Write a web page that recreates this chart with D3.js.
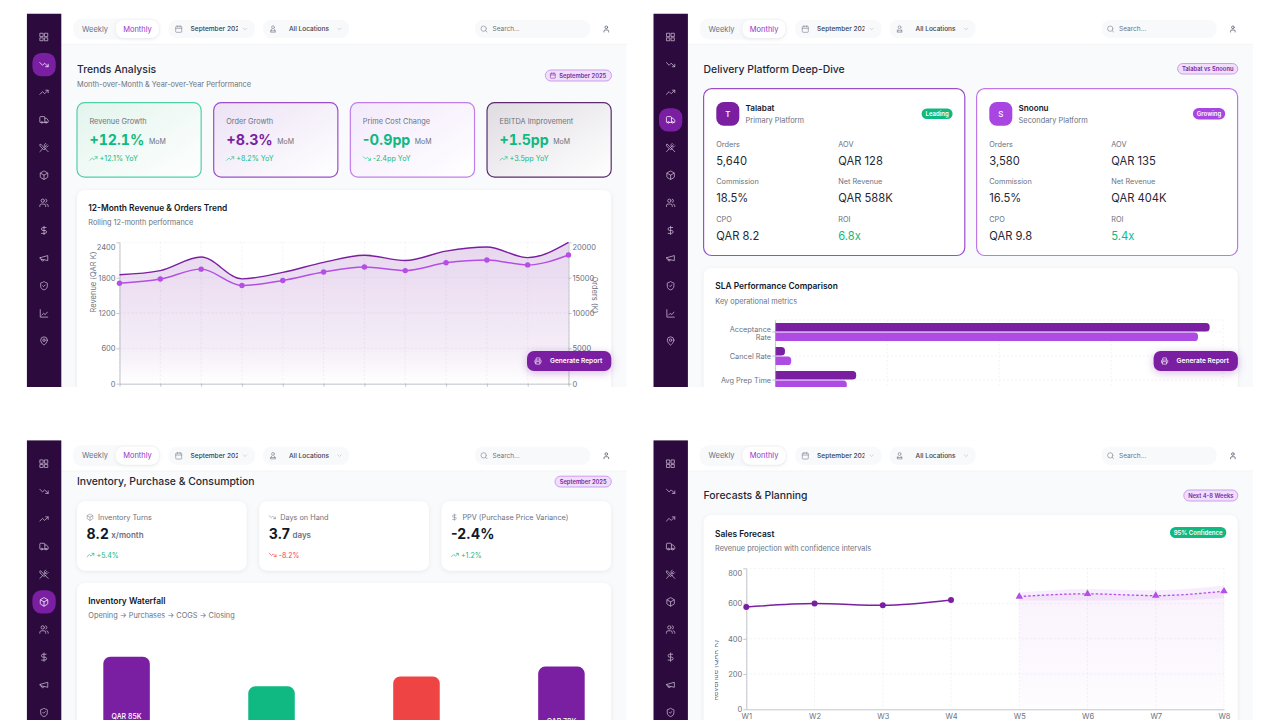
<!DOCTYPE html>
<html>
<head>
<meta charset="utf-8">
<script src="https://cdn.jsdelivr.net/npm/d3@7"></script>
<style>
  html, body { margin: 0; background: #fff; }
  svg { display: block; }
  text { font-family: Inter, "Noto Sans", sans-serif; }
  .card { filter: drop-shadow(0 1px 2px rgba(0,0,0,.07)); }
  .btn { filter: drop-shadow(0 2px 4px rgba(123,31,162,.3)); }
  .tab { font-variant-numeric: tabular-nums; }
</style>
</head>
<body>
<svg id="chart" width="1280" height="720"></svg>
<script>
// 12 month trend
const months = ["Oct", "Nov", "Dec", "Jan", "Feb", "Mar", "Apr", "May", "Jun", "Jul", "Aug", "Sep"];
const revenueValues = [1850, 1920, 2150, 1780, 1890, 2060, 2180, 2090, 2250, 2320, 2140, 2400];
const orderValues = [14200, 14800, 16200, 13900, 14600, 15800, 16500, 16000, 17100, 17500, 16800, 18200];
const revenueTicks = [0, 600, 1200, 1800, 2400];
const orderTicks = [0, 5000, 10000, 15000, 20000];

// trend kpis
const kpiLabels = ["Revenue Growth", "Order Growth", "Prime Cost Change", "EBITDA Improvement"];
const kpiValues = ["+12.1%", "+8.3%", "-0.9pp", "+1.5pp"];
const kpiYoy = ["+12.1% YoY", "+8.2% YoY", "-2.4pp YoY", "+3.5pp YoY"];
const kpiIcons = ["trendUp", "trendUp", "trendDown", "trendUp"];
const kpiValueColors = ["#10b981", "#7b1fa2", "#10b981", "#10b981"];
const kpiBorders = ["#4fd1a5", "#9c4dcc", "#c27ee8", "#5b2c6f"];
const kpiTints = ["#e3f4ed", "#ece2f5", "#f3e9fb", "#dfdce2"];

// platforms
const platformNames = ["Talabat", "Snoonu"];
const platformRoles = ["Primary Platform", "Secondary Platform"];
const platformTags = ["Leading", "Growing"];
const metricLabels = ["Orders", "AOV", "Commission", "Net Revenue", "CPO", "ROI"];
const talabatMetrics = ["5,640", "QAR 128", "18.5%", "QAR 588K", "QAR 8.2", "6.8x"];
const snoonuMetrics = ["3,580", "QAR 135", "16.5%", "QAR 404K", "QAR 9.8", "5.4x"];

// sla bars
const slaCategories = ["Acceptance Rate", "Cancel Rate", "Avg Prep Time"];
const talabatSla = [97, 2.2, 18.1];
const snoonuSla = [94.4, 3.6, 16];
const slaTicks = [0, 25, 50, 75, 100];

// inventory
const invLabels = ["Inventory Turns", "Days on Hand", "PPV (Purchase Price Variance)"];
const invValues = ["8.2", "3.7", "-2.4%"];
const invUnits = ["x/month", "days", ""];
const invDeltas = ["+5.4%", "-8.2%", "+1.2%"];
const invDeltaColors = ["#10b981", "#ef4444", "#10b981"];
const invDeltaIcons = ["trendUp", "trendDown", "trendUp"];
const invIcons = ["pkg", "trendDown", "dollar"];
const waterfallSteps = ["Opening", "Purchases", "COGS", "Closing"];
const waterfallValues = [85, 64, 71, 78];
const waterfallColors = ["#7b1fa2", "#10b981", "#ef4444", "#7b1fa2"];

// forecast
const weeks = ["W1", "W2", "W3", "W4", "W5", "W6", "W7", "W8"];
const actualSales = [580, 600, 590, 620];
const forecastSales = [640, 655, 645, 670];
const forecastUpper = [662, 683, 675, 702];
const forecastLower = [617, 618, 617, 630];
const salesTicks = [0, 200, 400, 600, 800];

const sideIcons = ["grid", "trendDown", "trendUp", "truck", "utensils", "pkg", "users", "dollar", "megaphone", "shield", "lineChart", "pin"];

const PURPLE = "#7b1fa2", LILAC = "#b44ee6", GREEN = "#10b981", GRAY = "#6b7280", DARK = "#1f2937";

const ICONS = {
    grid: "M3 3h7v8H3z M14 3h7v8h-7z M14 14h7v7h-7z M3 14h7v7H3z",
    trendDown: "M22 17l-8.5-8.5-5 5L2 7 M16 17h6v-6",
    trendUp: "M22 7l-8.5 8.5-5-5L2 17 M16 7h6v6",
    truck: "M14 18V6a2 2 0 0 0-2-2H4a2 2 0 0 0-2 2v11a1 1 0 0 0 1 1h2 M15 18H9 M19 18h2a1 1 0 0 0 1-1v-3.65a1 1 0 0 0-.22-.624l-3.48-4.35A1 1 0 0 0 17.52 8H14 M9 18a2 2 0 1 1-4 0 2 2 0 0 1 4 0 M19 18a2 2 0 1 1-4 0 2 2 0 0 1 4 0",
    utensils: "m16 2-2.3 2.3a3 3 0 0 0 0 4.2l1.8 1.8a3 3 0 0 0 4.2 0L22 8 M15 15 3.3 3.3a4.2 4.2 0 0 0 0 6l7.3 7.3c.7.7 2 .7 2.8 0L15 15Zm0 0 7 7 M2.1 21.8l6.4-6.3 M19 5l-7 7",
    pkg: "M11 21.73a2 2 0 0 0 2 0l7-4A2 2 0 0 0 21 16V8a2 2 0 0 0-1-1.73l-7-4a2 2 0 0 0-2 0l-7 4A2 2 0 0 0 3 8v8a2 2 0 0 0 1 1.73z M12 22V12 M3.3 7l8.7 5 8.7-5",
    users: "M16 21v-2a4 4 0 0 0-4-4H6a4 4 0 0 0-4 4v2 M16 3.128a4 4 0 0 1 0 7.744 M22 21v-2a4 4 0 0 0-3-3.87 M13 7a4 4 0 1 1-8 0 4 4 0 0 1 8 0",
    dollar: "M12 2v20 M17 5H9.5a3.5 3.5 0 0 0 0 7h5a3.5 3.5 0 0 1 0 7H6",
    megaphone: "m3 11 18-5v12L3 14v-3z M11.6 16.8a3 3 0 1 1-5.8-1.6",
    shield: "M20 13c0 5-3.5 7.5-7.66 8.95a1 1 0 0 1-.67-.01C7.5 20.5 4 18 4 13V6a1 1 0 0 1 1-1c2 0 4.5-1.2 6.24-2.72a1.17 1.17 0 0 1 1.52 0C14.51 3.81 17 5 19 5a1 1 0 0 1 1 1z m-11 -1 2 2 4-4",
    lineChart: "M3 3v18h18 M7 16l4-4 4 3 5-6",
    pin: "M20 10c0 6-8 12-8 12s-8-6-8-12a8 8 0 0 1 16 0Z M15 10a3 3 0 1 1-6 0 3 3 0 0 1 6 0",
    calendar: "M8 2v4 M16 2v4 M3 6a2 2 0 0 1 2-2h14a2 2 0 0 1 2 2v14a2 2 0 0 1-2 2H5a2 2 0 0 1-2-2z M3 10h18",
    chevron: "m6 9 6 6 6-6",
    search: "M19 11a8 8 0 1 1-16 0 8 8 0 0 1 16 0 M21 21l-4.3-4.3",
    user: "M19 21v-2a4 4 0 0 0-4-4H9a4 4 0 0 0-4 4v2 M16 7a4 4 0 1 1-8 0 4 4 0 0 1 8 0",
    location: "M16 7a4 4 0 1 1-8 0 4 4 0 0 1 8 0 M8 13l-3 8h14l-3-8 M5 17h14",
    printer: "M6 18H4a2 2 0 0 1-2-2v-5a2 2 0 0 1 2-2h16a2 2 0 0 1 2 2v5a2 2 0 0 1-2 2h-2 M6 9V3a1 1 0 0 1 1-1h10a1 1 0 0 1 1 1v6 M6 14h12v8H6z"
};

const svg = d3.select("#chart");
const defs = svg.append("defs");

function linearGradient(id, stops, x2, y2) {
    const g = defs.append("linearGradient").attr("id", id)
        .attr("x1", 0).attr("y1", 0).attr("x2", x2).attr("y2", y2);
    stops.forEach(s => g.append("stop").attr("offset", s[0]).attr("stop-color", s[1]).attr("stop-opacity", s[2]));
}

function txt(g, x, y, s, o = {}) {
    return g.append("text").attr("x", x).attr("y", y).attr("dy", ".35em")
        .attr("font-size", o.size || 8)
        .attr("font-weight", o.weight || 400)
        .attr("fill", o.fill || GRAY)
        .attr("text-anchor", o.anchor || "start")
        .text(s);
}

function icon(g, name, cx, cy, size, color, sw = 2) {
    const k = size / 24;
    g.append("path").attr("d", ICONS[name])
        .attr("transform", `translate(${cx - size / 2},${cy - size / 2}) scale(${k})`)
        .attr("fill", "none").attr("stroke", color)
        .attr("stroke-width", sw).attr("stroke-linecap", "round").attr("stroke-linejoin", "round");
}

function rrect(g, x, y, w, h, r, fill, stroke) {
    return g.append("rect").attr("x", x).attr("y", y).attr("width", w).attr("height", h)
        .attr("rx", r).attr("fill", fill).attr("stroke", stroke || "none");
}

function badge(g, x0, x1, y0, y1, label, withIcon) {
    rrect(g, x0, y0, x1 - x0, y1 - y0, (y1 - y0) / 2, "#efdffa", "#cf9bf0");
    if (withIcon) icon(g, "calendar", x0 + 7.5, (y0 + y1) / 2, 6.5, PURPLE);
    txt(g, withIcon ? x0 + 14 : (x0 + x1) / 2, (y0 + y1) / 2, label, {
        size: 5.8, weight: 600, fill: PURPLE, anchor: withIcon ? "start" : "middle"
    });
}

function tag(g, x0, x1, y0, y1, label, fill) {
    rrect(g, x0, y0, x1 - x0, y1 - y0, (y1 - y0) / 2, fill);
    txt(g, (x0 + x1) / 2, (y0 + y1) / 2, label, { size: 6, weight: 600, fill: "#fff", anchor: "middle" });
}

function whiteCard(g, x, y, w, h) {
    return rrect(g, x, y, w, h, 8, "#fff").attr("class", "card");
}

function reportButton(g) {
    rrect(g, 527, 351, 84.3, 20, 7, PURPLE).attr("class", "btn");
    icon(g, "printer", 538, 361, 7.5, "#fff");
    txt(g, 550, 361, "Generate Report", { size: 6.6, weight: 600, fill: "#fff" });
}

function gridLines(g, xs, ys, x0, x1, y0, y1) {
    const c = g.append("g").attr("stroke", "#e8eaee").attr("stroke-width", .6).attr("stroke-dasharray", "2 2");
    c.selectAll(".v").data(xs).join("line").attr("class", "v")
        .attr("x1", d => d).attr("x2", d => d).attr("y1", y0).attr("y2", y1);
    c.selectAll(".h").data(ys).join("line").attr("class", "h")
        .attr("y1", d => d).attr("y2", d => d).attr("x1", x0).attr("x2", x1);
}

function styleAxis(a, size = 7.5) {
    a.selectAll("path,line").attr("stroke", "#a8adb6").attr("stroke-width", .7);
    a.selectAll("text").attr("fill", GRAY).attr("font-size", size)
        .attr("font-family", 'Inter, "Noto Sans", sans-serif');
}

// sidebar, top bar and page background shared by the four views
function shell(id, dx, dy, active) {
    const clip = defs.append("clipPath").attr("id", "clip" + id);
    clip.append("rect").attr("x", 26.7).attr("y", 13.5).attr("width", 600).attr("height", 373.5);
    const outer = svg.append("g").attr("transform", `translate(${dx},${dy})`).attr("clip-path", `url(#clip${id})`);
    outer.append("rect").attr("x", 26.7).attr("y", 13.5).attr("width", 600).attr("height", 373.5).attr("fill", "#f9fafc");

    outer.append("rect").attr("x", 61.3).attr("y", 13.5).attr("width", 566).attr("height", 30.7).attr("fill", "#fff");
    outer.append("line").attr("x1", 61.3).attr("x2", 627).attr("y1", 44.3).attr("y2", 44.3).attr("stroke", "#f0f1f4").attr("stroke-width", .7);

    outer.append("rect").attr("x", 26.7).attr("y", 13.5).attr("width", 34.6).attr("height", 373.5).attr("fill", "#2c0a3e");
    const rowY = d3.scalePoint().domain(d3.range(sideIcons.length)).range([37, 341]);
    sideIcons.forEach((name, i) => {
        if (i === active) rrect(outer, 32.4, rowY(i) - 11.7, 23.3, 23.4, 9, PURPLE);
        icon(outer, name, 44, rowY(i), 10, i === active ? "#fff" : "#cdbcd6", 1.8);
    });

    rrect(outer, 73, 18.5, 87, 21, 9, "#f8f9fb");
    rrect(outer, 116, 20, 43, 18, 8, "#fff").attr("class", "card");
    txt(outer, 95, 29, "Weekly", { size: 7.5, anchor: "middle" });
    txt(outer, 137.5, 29, "Monthly", { size: 7.5, fill: "#9333c9", anchor: "middle" });

    rrect(outer, 168.5, 20, 86.5, 18, 8, "#f8f9fb");
    icon(outer, "calendar", 178.7, 29, 8, GRAY, 1.6);
    const dateClip = defs.append("clipPath").attr("id", "date" + id);
    dateClip.append("rect").attr("x", 188).attr("y", 20).attr("width", 50).attr("height", 18);
    txt(outer, 190.5, 29, "September 2025", { size: 6.6, weight: 500, fill: "#374151" }).attr("clip-path", `url(#date${id})`);
    icon(outer, "chevron", 245, 29, 6.5, "#9ca3af", 1.6);

    rrect(outer, 263, 20, 86, 18, 8, "#f8f9fb");
    icon(outer, "location", 273, 29, 8.5, GRAY, 1.6);
    txt(outer, 289, 29, "All Locations", { size: 6.5, weight: 500, fill: "#374151" });
    icon(outer, "chevron", 339.5, 29, 6.5, "#9ca3af", 1.6);

    rrect(outer, 475, 20, 115, 18, 8, "#f8f9fb");
    icon(outer, "search", 484, 29, 8, GRAY, 1.6);
    txt(outer, 492.5, 29, "Search...", { size: 6.5, fill: "#6b7280" });
    icon(outer, "user", 606.3, 29, 8, "#374151", 2);
    return outer;
}

// view 1: trends
function drawTrends(p) {
    txt(p, 77, 69, "Trends Analysis", { size: 10.4, weight: 500, fill: DARK });
    txt(p, 77, 84.7, "Month-over-Month & Year-over-Year Performance", { size: 7.35 });
    badge(p, 545.3, 611.5, 70, 81, "September 2025", true);

    const cardX = d3.scaleBand().domain(d3.range(kpiLabels.length)).range([77, 611.2]).paddingInner(.0915);
    kpiLabels.forEach((label, i) => {
        const x = cardX(i);
        linearGradient("kpi" + i, [[0, kpiTints[i], 1], [1, "#fff", 1]], 1, 1);
        rrect(p, x, 102.7, cardX.bandwidth(), 74.4, 7.5, `url(#kpi${i})`, kpiBorders[i]).attr("stroke-width", 1.2);
        txt(p, x + 12.5, 121, label, { size: 7.35 });
        const v = txt(p, x + 12.5, 140, kpiValues[i], { size: 14.2, weight: 700, fill: kpiValueColors[i] });
        // the wide "1" of the source shows up only in values that hold one
        if (kpiValues[i].includes("1")) v.attr("class", "tab");
        txt(p, x + 12.5 + v.node().getComputedTextLength() + 4.5, 142, "MoM", { size: 7 });
        icon(p, kpiIcons[i], x + 16.5, 158.5, 8.5, "#34c795", 2);
        txt(p, x + 22.5, 158.7, kpiYoy[i], { size: 7.2, fill: GREEN });
    });

    whiteCard(p, 77, 190, 534.2, 230);
    txt(p, 88.3, 208, "12-Month Revenue & Orders Trend", { size: 8.4, weight: 600, fill: "#111827" });
    txt(p, 88.3, 222.5, "Rolling 12-month performance", { size: 7.35 });

    const x = d3.scalePoint().domain(months).range([119.5, 568.5]);
    const yRev = d3.scaleLinear().domain([0, 2400]).range([383.7, 242.3]);
    const yOrd = d3.scaleLinear().domain([0, 20000]).range([383.7, 242.3]);

    gridLines(p, months.map(m => x(m)), revenueTicks.map(yRev), 119.5, 568.5, 242.3, 383.7);

    linearGradient("revFill", [[0, PURPLE, .18], [.75, PURPLE, .08], [1, PURPLE, 0]], 0, 1);
    const revRows = months.map((m, i) => ({ m, v: revenueValues[i] }));
    const ordRows = months.map((m, i) => ({ m, v: orderValues[i] }));
    p.append("path").datum(revRows).attr("fill", "url(#revFill)")
        .attr("d", d3.area().curve(d3.curveMonotoneX).x(d => x(d.m)).y0(383.7).y1(d => yRev(d.v)));

    const left = p.append("g").attr("transform", "translate(119.5,0)")
        .call(d3.axisLeft(yRev).tickValues(revenueTicks).tickFormat(d3.format("d")).tickSize(3).tickPadding(1).tickSizeOuter(0));
    const right = p.append("g").attr("transform", "translate(568.5,0)")
        .call(d3.axisRight(yOrd).tickValues(orderTicks).tickFormat(d3.format("d")).tickSize(3).tickPadding(1).tickSizeOuter(0));
    const bottom = p.append("g").attr("transform", "translate(0,383.7)")
        .call(d3.axisBottom(x).tickSize(3).tickSizeOuter(0).tickFormat(""));
    [left, right, bottom].forEach(a => styleAxis(a));
    // recharts pushes the top tick label down inside the plot
    left.selectAll("text").filter(d => d === 2400).attr("dy", "1em");
    right.selectAll("text").filter(d => d === 20000).attr("dy", "1em");

    p.append("path").datum(revRows).attr("fill", "none").attr("stroke", PURPLE).attr("stroke-width", 1.4)
        .attr("d", d3.line().curve(d3.curveMonotoneX).x(d => x(d.m)).y(d => yRev(d.v)));
    p.append("path").datum(ordRows).attr("fill", "none").attr("stroke", LILAC).attr("stroke-width", 1.4)
        .attr("d", d3.line().curve(d3.curveMonotoneX).x(d => x(d.m)).y(d => yOrd(d.v)));
    p.selectAll(".ordDot").data(ordRows).join("circle").attr("class", "ordDot")
        .attr("cx", d => x(d.m)).attr("cy", d => yOrd(d.v)).attr("r", 2.7).attr("fill", LILAC);

    txt(p, 0, 0, "Revenue (QAR K)", { size: 7.5, anchor: "middle" }).attr("transform", "translate(93.5,282) rotate(-90)");
    txt(p, 0, 0, "Orders (K)", { size: 7.5, anchor: "middle" }).attr("transform", "translate(595,295) rotate(90)");

    reportButton(p);
}

// view 2: platforms
function drawPlatforms(p) {
    txt(p, 77, 69, "Delivery Platform Deep-Dive", { size: 10.4, weight: 500, fill: DARK });
    badge(p, 551, 611.2, 63.5, 74, "Talabat vs Snoonu", false);

    [talabatMetrics, snoonuMetrics].forEach((metrics, i) => {
        const x0 = i === 0 ? 77 : 350;
        const w = i === 0 ? 261.2 : 261;
        const color = i === 0 ? PURPLE : "#a945e0";
        rrect(p, x0, 88.7, w, 166.8, 8, "#fff", i === 0 ? "#9c4dcc" : "#bf77e8").attr("stroke-width", 1.2);
        rrect(p, x0 + 12.7, 102, 23, 23.7, 7.5, color);
        txt(p, x0 + 24.2, 113.8, platformNames[i][0], { size: 8, fill: "#fff", anchor: "middle", weight: 500 });
        txt(p, x0 + 42, 108, platformNames[i], { size: 8.1, weight: 600, fill: "#111827" });
        txt(p, x0 + 42, 120.5, platformRoles[i], { size: 7.4 });
        if (i === 0) tag(p, x0 + 218, x0 + 249, 108.5, 119, platformTags[i], GREEN);
        else tag(p, x0 + 216.3, x0 + 248.6, 108, 119.5, platformTags[i], "#a945e0");

        metrics.forEach((val, j) => {
            const mx = x0 + 12.7 + (j % 2) * 122;
            const my = 144.3 + Math.floor(j / 2) * 37.6;
            txt(p, mx, my, metricLabels[j], { size: 7.3 });
            txt(p, mx, my + 16.5, val, { size: 11.2, fill: metricLabels[j] === "ROI" ? GREEN : DARK });
        });
    });

    whiteCard(p, 77, 268, 534.2, 150);
    txt(p, 88.7, 286, "SLA Performance Comparison", { size: 8.4, weight: 600, fill: "#111827" });
    txt(p, 88.7, 301, "Key operational metrics", { size: 7.35 });

    const x = d3.scaleLinear().domain([0, 100]).range([148.5, 596.5]);
    const y = d3.scaleBand().domain(slaCategories).range([320, 392]);
    const inner = d3.scaleBand().domain(platformNames).range([3, 21]).paddingInner(.1);

    gridLines(p, slaTicks.map(x), slaCategories.map(c => y(c) + y.bandwidth() / 2).concat([320]), 148.5, 596.5, 320, 390);

    const bar = (v, key, cat) => {
        const x0 = x(0), x1 = x(v), t = y(cat) + inner(key), h = inner.bandwidth();
        const r = Math.min(3.6, (x1 - x0));
        return `M${x0},${t}H${x1 - r}A${r},${r} 0 0 1 ${x1},${t + r}V${t + h - r}A${r},${r} 0 0 1 ${x1 - r},${t + h}H${x0}Z`;
    };
    [[talabatSla, "Talabat", PURPLE], [snoonuSla, "Snoonu", "#ad4be2"]].forEach(([vals, key, color]) => {
        p.selectAll(".bar" + key).data(slaCategories).join("path").attr("class", "bar" + key)
            .attr("fill", color).attr("d", (c, i) => bar(vals[i], key, c));
    });

    const left = p.append("g").attr("transform", "translate(148.5,0)")
        .call(d3.axisLeft(y).tickSize(3).tickPadding(1).tickSizeOuter(0));
    styleAxis(left, 7.3);
    left.selectAll(".tick text").attr("dy", ".45em").each(function (d) {
        if (d.length <= 13) return;
        const words = d.split(" "), t = d3.select(this).text("").attr("dy", null);
        words.forEach((w, i) => t.append("tspan").attr("x", -4).attr("dy", i === 0 ? "0em" : "1.1em").text(w));
    });

    reportButton(p);
}

// view 3: inventory
function drawInventory(p) {
    txt(p, 77, 55, "Inventory, Purchase & Consumption", { size: 10.4, weight: 500, fill: DARK });
    badge(p, 555, 611.3, 49.5, 60.3, "September 2025", false);

    const cardX = d3.scaleBand().domain(d3.range(invLabels.length)).range([77, 611.2]).paddingInner(.0685);
    invLabels.forEach((label, i) => {
        const x = cardX(i);
        whiteCard(p, x, 74.5, cardX.bandwidth(), 69.5);
        icon(p, invIcons[i], x + 13, 90.5, 7.5, GRAY, 1.6);
        txt(p, x + 21, 90.5, label, { size: 7.3 });
        const v = txt(p, x + 9.5, 107.8, invValues[i], { size: 14, weight: 700, fill: "#111827" });
        if (invUnits[i]) txt(p, x + 9.5 + v.node().getComputedTextLength() + 2.5, 109, invUnits[i], { size: 8, weight: 600, fill: GRAY });
        icon(p, invDeltaIcons[i], x + 13.5, 128.3, 8, invDeltaColors[i], 2);
        txt(p, x + 19.5, 128.5, invDeltas[i], { size: 7, fill: invDeltaColors[i] });
    });

    whiteCard(p, 77, 156, 534.2, 300);
    txt(p, 88.3, 174.5, "Inventory Waterfall", { size: 8.4, weight: 600, fill: "#111827" });
    txt(p, 88.3, 189, "Opening → Purchases → COGS → Closing", { size: 7.35 });

    const x = d3.scaleBand().domain(waterfallSteps).range([103.3, 584.7]).paddingInner(.679);
    const y = d3.scaleLinear().domain([0, 85]).range([350, 230]);
    p.selectAll(".wf").data(waterfallSteps).join("rect").attr("class", "wf")
        .attr("x", d => x(d)).attr("width", x.bandwidth())
        .attr("y", (d, i) => y(waterfallValues[i]))
        .attr("height", (d, i) => y(0) - y(waterfallValues[i]))
        .attr("rx", 7).attr("fill", (d, i) => waterfallColors[i]);
    waterfallSteps.forEach((d, i) => {
        const cy = (y(waterfallValues[i]) + y(0)) / 2;
        if (cy < 296) txt(p, x(d) + x.bandwidth() / 2, cy, `QAR ${waterfallValues[i]}K`, { size: 7, weight: 500, fill: "#fff", anchor: "middle" });
    });
}

// view 4: forecast
function drawForecast(p) {
    txt(p, 77, 69, "Forecasts & Planning", { size: 10.4, weight: 500, fill: DARK });
    badge(p, 557.2, 611.2, 63.3, 74.3, "Next 4-8 Weeks", false);

    whiteCard(p, 77, 88.3, 534.2, 300);
    txt(p, 88.5, 107.3, "Sales Forecast", { size: 8.4, weight: 600, fill: "#111827" });
    txt(p, 88.5, 121.5, "Revenue projection with confidence intervals", { size: 7.35 });
    tag(p, 543.4, 599.7, 100.3, 111.3, "95% Confidence", GREEN);

    const x = d3.scalePoint().domain(weeks).range([119.7, 597.4]);
    const y = d3.scaleLinear().domain([0, 800]).range([282.6, 141.6]);
    gridLines(p, weeks.map(w => x(w)), salesTicks.filter(d => d > 0).map(y), 119.7, 597.4, 141.6, 282.6);

    const fcRows = weeks.slice(4).map((w, i) => ({ w, v: forecastSales[i], hi: forecastUpper[i], lo: forecastLower[i] }));
    const actRows = weeks.slice(0, 4).map((w, i) => ({ w, v: actualSales[i] }));

    linearGradient("fcFill", [[0, LILAC, .07], [1, LILAC, .015]], 0, 1);
    p.append("path").datum(fcRows).attr("fill", "url(#fcFill)")
        .attr("d", d3.area().curve(d3.curveMonotoneX).x(d => x(d.w)).y0(y(0)).y1(d => y(d.v)));
    p.append("path").datum(fcRows).attr("fill", LILAC).attr("fill-opacity", .1)
        .attr("d", d3.area().curve(d3.curveMonotoneX).x(d => x(d.w)).y0(d => y(d.lo)).y1(d => y(d.hi)));

    const left = p.append("g").attr("transform", "translate(119.7,0)")
        .call(d3.axisLeft(y).tickValues(salesTicks).tickSize(3).tickPadding(1).tickSizeOuter(0));
    const bottom = p.append("g").attr("transform", "translate(0,282.6)")
        .call(d3.axisBottom(x).tickSize(0).tickPadding(4).tickSizeOuter(0));
    styleAxis(left);
    styleAxis(bottom);
    left.selectAll("text").filter(d => d === 800).attr("dy", ".95em");

    p.append("path").datum(actRows).attr("fill", "none").attr("stroke", PURPLE).attr("stroke-width", 1.5)
        .attr("d", d3.line().curve(d3.curveMonotoneX).x(d => x(d.w)).y(d => y(d.v)));
    p.selectAll(".act").data(actRows).join("circle").attr("class", "act")
        .attr("cx", d => x(d.w)).attr("cy", d => y(d.v)).attr("r", 3).attr("fill", PURPLE);

    p.append("path").datum(fcRows).attr("fill", "none").attr("stroke", LILAC).attr("stroke-width", 1.3)
        .attr("stroke-dasharray", "2.5 2")
        .attr("d", d3.line().curve(d3.curveMonotoneX).x(d => x(d.w)).y(d => y(d.v)));
    p.selectAll(".fc").data(fcRows).join("path").attr("class", "fc")
        .attr("d", d3.symbol(d3.symbolTriangle, 24))
        .attr("transform", d => `translate(${x(d.w)},${y(d.v)})`).attr("fill", LILAC);

    // axis title is cut by the chart's own margin in the source screenshot
    const nameClip = defs.append("clipPath").attr("id", "yname");
    nameClip.append("rect").attr("x", -40).attr("y", -3).attr("width", 80).attr("height", 5);
    const name = p.append("g").attr("transform", "translate(91.3,243.5) rotate(-90)");
    name.append("text").attr("text-anchor", "middle").attr("font-size", 7.5).attr("fill", GRAY)
        .attr("clip-path", "url(#yname)").text("Revenue (QAR K)");
}

drawTrends(shell("a", 0, 0, 1));
drawPlatforms(shell("b", 626.6, 0, 3));
drawInventory(shell("c", 0, 426.7, 5));
drawForecast(shell("d", 626.6, 426.7, -1));
</script>
</body>
</html>
